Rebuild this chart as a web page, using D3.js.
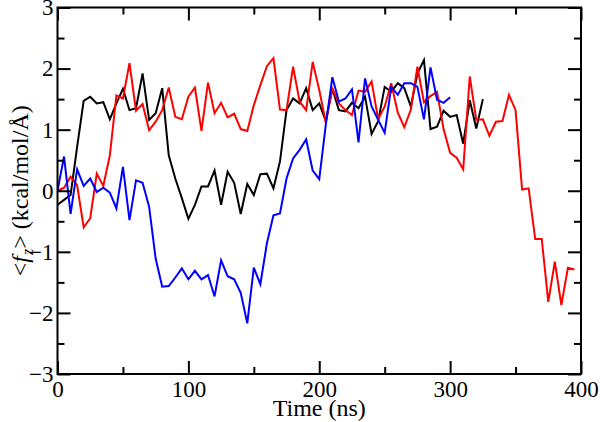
<!DOCTYPE html>
<html>
<head>
<meta charset="utf-8">
<script src="https://cdn.jsdelivr.net/npm/d3@7"></script>
<style>
  html, body { margin: 0; padding: 0; background: #fff; }
  svg { display: block; }
</style>
</head>
<body>
<svg id="chart" width="600" height="422"></svg>
<script>
const step = 5;
const blackValues = [-0.23,-0.15,-0.07,0.72,1.47,1.54,1.43,1.45,1.17,1.43,1.67,1.32,1.35,1.92,1.16,1.27,1.68,0.58,0.2,-0.12,
  -0.46,-0.23,0.07,0.07,0.33,-0.23,0.31,0.13,-0.38,0.11,-0.07,0.27,0.28,0.04,0.48,1.32,1.51,1.43,1.68,1.32,
  1.43,1.14,1.67,1.32,1.30,1.44,1.35,1.54,0.93,1.14,1.70,1.62,1.76,1.68,1.38,1.92,2.14,1.01,1.05,1.31,
  1.21,1.24,0.77,1.48,1.02,1.50];
const redValues = [0.0,0.05,0.23,0.09,-0.6,-0.45,0.28,0.08,0.58,1.56,1.51,2.09,1.31,1.42,0.99,1.13,1.32,1.69,1.21,1.17,
  1.54,1.69,0.98,1.77,1.27,1.44,1.2,1.26,1.01,0.98,1.40,1.73,2.04,2.17,1.33,1.32,2.03,1.46,1.32,2.11,
  1.65,1.12,1.67,1.43,1.32,1.24,1.64,1.62,1.79,1.17,1.38,1.76,1.28,1.04,1.33,2.03,1.45,1.55,1.62,1.01,
  0.62,0.54,0.35,1.87,1.16,1.17,0.9,1.13,1.14,1.57,1.32,0.02,0.04,-0.79,-0.79,-1.82,-1.16,-1.87,-1.26,-1.29];
const blueValues = [0.0,0.56,-0.38,0.35,0.08,0.2,-0.02,0.05,-0.03,-0.29,0.39,-0.48,0.17,0.13,-0.26,-1.11,-1.57,-1.56,-1.42,-1.27,
  -1.45,-1.31,-1.45,-1.38,-1.73,-1.14,-1.4,-1.45,-1.67,-2.17,-1.26,-1.53,-0.86,-0.4,-0.37,0.2,0.53,0.67,0.84,0.33,
  0.19,1.08,1.86,1.46,1.51,1.66,0.79,1.84,1.38,1.16,0.95,1.70,1.57,1.76,1.76,1.70,1.17,2.02,1.49,1.44,
  1.53];
const xTicks = [0, 100, 200, 300, 400];
const yTicks = [-3, -2, -1, 0, 1, 2, 3];
const xMinor = [50, 150, 250, 350];
const yMinor = [-2.5, -1.5, -0.5, 0.5, 1.5, 2.5];
const seriesColors = ["#000000", "#ff0000", "#0000ff"];

const FONT = "'Liberation Serif'";
const svg = d3.select("#chart");
const L = 57.5, R = 581, T = 7.5, B = 374;
const x = d3.scaleLinear().domain([0, 400]).range([L, R]);
const y = d3.scaleLinear().domain([-3, 3]).range([B, T]);

svg.append("clipPath").attr("id", "clip").append("rect")
  .attr("x", L).attr("y", T).attr("width", R - L).attr("height", B - T);

const line = d3.line().x((d, i) => x(i * step)).y(d => y(d));
const g = svg.append("g").attr("clip-path", "url(#clip)");
[blackValues, redValues, blueValues].forEach((vals, k) => {
  g.append("path").datum(vals).attr("d", line)
    .attr("fill", "none").attr("stroke", seriesColors[k])
    .attr("stroke-width", 2).attr("stroke-linejoin", "miter");
});

const fs = 23;
const axBottom = d3.axisBottom(x).tickValues(xTicks).tickSize(-13).tickPadding(4).tickFormat(d3.format("d"));
const axTop = d3.axisTop(x).tickValues(xTicks).tickSize(-13).tickFormat("");
const axLeft = d3.axisLeft(y).tickValues(yTicks).tickSize(-13).tickPadding(4).tickFormat(d3.format("d"));
const axRight = d3.axisRight(y).tickValues(yTicks).tickSize(-13).tickFormat("");
const axBottomMin = d3.axisBottom(x).tickValues(xMinor).tickSize(-7).tickFormat("");
const axTopMin = d3.axisTop(x).tickValues(xMinor).tickSize(-7).tickFormat("");
const axLeftMin = d3.axisLeft(y).tickValues(yMinor).tickSize(-7).tickFormat("");
const axRightMin = d3.axisRight(y).tickValues(yMinor).tickSize(-7).tickFormat("");

function styleAxis(sel) {
  sel.attr("font-family", null).attr("font-size", null);
  sel.select(".domain").remove();
  sel.selectAll(".tick line").attr("stroke", "#000").attr("stroke-width", 2);
  sel.selectAll(".tick text").style("font-family", FONT).style("font-size", fs + "px").attr("fill", "#000");
}
const gb = svg.append("g").attr("transform", `translate(0,${B})`).call(axBottom).call(styleAxis);
gb.selectAll(".tick text").attr("y", 23).attr("dy", null);
svg.append("g").attr("transform", `translate(0,${B})`).call(axBottomMin).call(styleAxis);
svg.append("g").attr("transform", `translate(0,${T})`).call(axTop).call(styleAxis);
svg.append("g").attr("transform", `translate(0,${T})`).call(axTopMin).call(styleAxis);
const gl = svg.append("g").attr("transform", `translate(${L},0)`).call(axLeft).call(styleAxis);
gl.selectAll(".tick text").attr("x", -4);
svg.append("g").attr("transform", `translate(${L},0)`).call(axLeftMin).call(styleAxis);
svg.append("g").attr("transform", `translate(${R},0)`).call(axRight).call(styleAxis);
svg.append("g").attr("transform", `translate(${R},0)`).call(axRightMin).call(styleAxis);

svg.append("rect").attr("x", L).attr("y", T).attr("width", R - L).attr("height", B - T)
  .attr("fill", "none").attr("stroke", "#000").attr("stroke-width", 2);

svg.append("text").attr("x", (L + R) / 2).attr("y", 416).attr("text-anchor", "middle")
  .style("font-family", FONT).style("font-size", "24px").attr("fill", "#000").text("Time (ns)");

const yl = svg.append("text").attr("transform", `translate(28,${(T + B) / 2}) rotate(-90)`)
  .attr("text-anchor", "middle").style("font-family", FONT).style("font-size", "24px").attr("fill", "#000");
yl.append("tspan").text("<");
yl.append("tspan").attr("font-style", "italic").text("f");
yl.append("tspan").attr("font-style", "italic").style("font-size", "16px").attr("dy", 5).attr("dx", 1).text("z");
yl.append("tspan").attr("dy", -5).text(">");
yl.append("tspan").text(" (kcal/mol/Å)");
</script>
</body>
</html>
